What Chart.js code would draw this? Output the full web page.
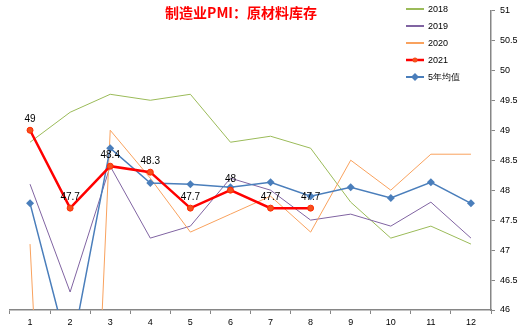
<!DOCTYPE html>
<html>
<head>
<meta charset="utf-8">
<script src="https://cdn.jsdelivr.net/npm/chart.js@4"></script>
<style>
  html, body { margin: 0; padding: 0; background: #fff; }
  #wrap { width: 524px; height: 333px; }
</style>
</head>
<body>
<div id="wrap"><canvas id="chart" width="524" height="333"></canvas></div>
<script>
// data
const months = ['1', '2', '3', '4', '5', '6', '7', '8', '9', '10', '11', '12'];
const y2018 = [48.8, 49.3, 49.6, 49.5, 49.6, 48.8, 48.9, 48.7, 47.8, 47.2, 47.4, 47.1];
const y2019 = [48.1, 46.3, 48.4, 47.2, 47.4, 48.2, 48.0, 47.5, 47.6, 47.4, 47.8, 47.2];
const y2020 = [47.1, 33.9, 49.0, 48.2, 47.3, 47.6, 47.9, 47.3, 48.5, 48.0, 48.6, 48.6];
const y2021 = [49.0, 47.7, 48.4, 48.3, 47.7, 48.0, 47.7, 47.7];
const avg5 = [47.78, 45.2, 48.7, 48.12, 48.1, 48.05, 48.13, 47.9, 48.05, 47.87, 48.13, 47.78];
const yTicks = { min: 46, max: 51, step: 0.5 };

const axisColor = '#868686';
const fontFamily = '"Liberation Sans", Arial, sans-serif';

//Title and legend drawn on top of the plot

const overlay = {
    id: 'overlay',
    afterDraw(chart) {
        const c = chart.ctx;
        c.save();
        c.fillStyle = '#FF0000';
        c.font = 'bold 14px "Noto Sans CJK SC", sans-serif';
        c.textAlign = 'center';
        c.textBaseline = 'middle';
        c.fillText('制造业PMI：原材料库存', 241, 13);

        // data labels for 2021
        const meta = chart.getDatasetMeta(3);
        c.fillStyle = '#000';
        c.font = '10px ' + fontFamily;
        c.textBaseline = 'alphabetic';
        meta.data.forEach((pt, i) => {
            c.fillText(String(y2021[i]), pt.x, pt.y - 8);
        });

        // legend
        c.textAlign = 'left';
        c.textBaseline = 'middle';
        c.font = '9px ' + fontFamily;
        chart.data.datasets.forEach((ds, i) => {
            const y = 9 + 17 * i;
            c.strokeStyle = ds.borderColor;
            c.lineWidth = ds.legendWidth;
            c.beginPath();
            c.moveTo(406, y);
            c.lineTo(424, y);
            c.stroke();
            if (ds.pointRadius > 0) {
                c.fillStyle = ds.pointBackgroundColor;
                c.beginPath();
                if (ds.pointStyle === 'rectRot') {
                    c.moveTo(415, y - 4);
                    c.lineTo(419, y);
                    c.lineTo(415, y + 4);
                    c.lineTo(411, y);
                } else {
                    c.arc(415, y, 2.5, 0, Math.PI * 2);
                }
                c.fill();
            }
            c.fillStyle = '#000';
            c.fillText(ds.label, 428, y + 1);
        });
        c.restore();
    }
};

const chart = document.querySelector('#chart').getContext('2d');

new Chart(chart, {
    type: 'line',
    data: {
        labels: months,
        datasets: [
            {
                label: '2018',
                data: y2018,
                borderColor: '#9BBB59',
                borderWidth: 1,
                legendWidth: 2,
                pointRadius: 0,
                order: 4
            },
            {
                label: '2019',
                data: y2019,
                borderColor: '#8064A2',
                borderWidth: 1,
                legendWidth: 2,
                pointRadius: 0,
                order: 3
            },
            {
                label: '2020',
                data: y2020,
                borderColor: '#F9A25E',
                borderWidth: 1,
                legendWidth: 2,
                pointRadius: 0,
                order: 2
            },
            {
                label: '2021',
                data: y2021,
                borderColor: '#FF0000',
                borderWidth: 2.5,
                legendWidth: 2.5,
                pointRadius: 3,
                pointStyle: 'circle',
                pointBackgroundColor: '#F4511E',
                pointBorderColor: '#FF2A00',
                pointBorderWidth: 1,
                order: 0
            },
            {
                label: '5年均值',
                data: avg5,
                borderColor: '#4A7EBB',
                borderWidth: 1.5,
                legendWidth: 2,
                pointRadius: 4,
                pointStyle: 'rectRot',
                pointBackgroundColor: '#4A7EBB',
                pointBorderColor: '#4A7EBB',
                pointBorderWidth: 0,
                order: 1
            }
        ]
    },
    plugins: [overlay],
    options: {
        responsive: false,
        animation: false,
        devicePixelRatio: 1,
        layout: { padding: { left: 10, top: 10, right: 0, bottom: 0 } },
        plugins: {
            legend: { display: false },
            tooltip: { enabled: false }
        },
        elements: { line: { tension: 0 } },
        scales: {
            x: {
                offset: true,
                grid: {
                    offset: true,
                    drawOnChartArea: false,
                    drawTicks: true,
                    tickLength: 4,
                    color: axisColor
                },
                border: { color: axisColor, width: 1.5 },
                ticks: {
                    color: '#000',
                    padding: 3,
                    maxRotation: 0,
                    font: { family: fontFamily, size: 9 }
                },
                afterFit(scale) { scale.height = 23; }
            },
            y: {
                position: 'right',
                min: yTicks.min,
                max: yTicks.max,
                grid: {
                    drawOnChartArea: false,
                    drawTicks: true,
                    tickLength: 4,
                    color: axisColor
                },
                border: { color: axisColor, width: 1.5 },
                ticks: {
                    stepSize: yTicks.step,
                    color: '#000',
                    padding: 5,
                    font: { family: fontFamily, size: 9 },
                    callback: (v) => String(v)
                },
                afterFit(scale) { scale.width = 33; }
            }
        }
    }
});
</script>
</body>
</html>
